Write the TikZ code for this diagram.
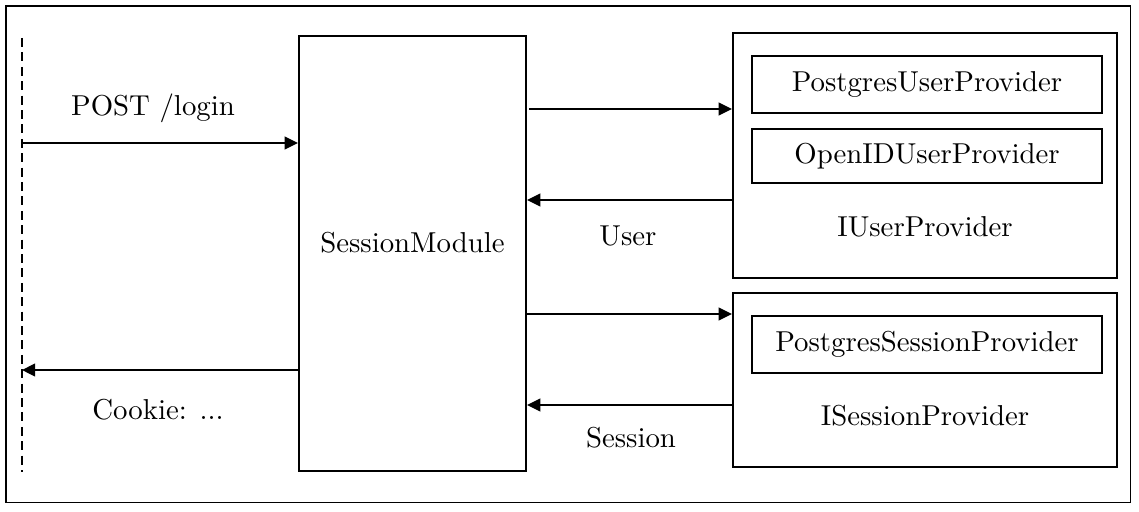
\documentclass[tikz,border=0pt]{standalone}
\usetikzlibrary{arrows.meta}
\begin{document}
\def\u{0.3472pt}
\begin{tikzpicture}[x=0.3472pt,y=-0.3472pt,
  box/.style={draw, line width=0.8pt, inner sep=0pt, rectangle},
  lbl/.style={inner sep=0pt, font=\fontsize{10}{12}\selectfont},
  arr/.style={line width=0.45pt, -{Triangle[length=4.6pt,width=4.5pt]}},
  lifeline/.style={line width=0.75pt, dash pattern=on 3.1pt off 1.9pt}]
\useasboundingbox (0,0) rectangle (1139,512);
\node[draw, line width=0.35pt, inner sep=0pt, minimum width=1124*\u, minimum height=496*\u] (frame) at (568,254) {};
% lifeline
\coordinate (dtop) at (22,38);
\coordinate (dbot) at (22,472);
\draw[lifeline] (dtop) -- (dbot);
% boxes
\node[box, minimum width=227*\u, minimum height=435*\u] (sm) at (412.5,253.5) {};
\node[lbl] (smlabel) at (412.5,243) {SessionModule};
\node[box, minimum width=384*\u, minimum height=245*\u] (ubox) at (925,155.5) {};
\node[box, minimum width=350*\u, minimum height=57*\u, font=\fontsize{10}{12}\selectfont] (pgu) at (927,84.5) {PostgresUserProvider};
\node[box, minimum width=350*\u, minimum height=54*\u, font=\fontsize{10}{12}\selectfont] (oid) at (927,156) {OpenIDUserProvider};
\node[lbl] (ulabel) at (925,227) {IUserProvider};
\node[box, minimum width=384*\u, minimum height=174*\u] (sbox) at (925,380) {};
\node[box, minimum width=350*\u, minimum height=57*\u, font=\fontsize{10}{12}\selectfont] (pgs) at (927,344.5) {PostgresSessionProvider};
\node[lbl] (slabel) at (925,416) {ISessionProvider};
% arrows
\coordinate (p1) at (22,143);
\coordinate (p2) at (22,370);
\draw[arr] (p1) -- (p1 -| sm.west);
\node[lbl] (postlbl) at (153,108) {POST /login};
\draw[arr] (p2 -| sm.west) -- (p2);
\node[lbl] (cookielbl) at (158,410) {Cookie: ...};
\draw[arr] ([xshift=2*\u]sm.east |- 0,109) -- (ubox.west |- 0,109);
\draw[arr] (ubox.west |- 0,200) -- (sm.east |- 0,200);
\node[lbl] (userlbl) at (628,236) {User};
\draw[arr] (sm.east |- 0,314) -- (sbox.west |- 0,314);
\draw[arr] (sbox.west |- 0,405) -- (sm.east |- 0,405);
\node[lbl] (sesslbl) at (631,438) {Session};
\end{tikzpicture}
\end{document}
